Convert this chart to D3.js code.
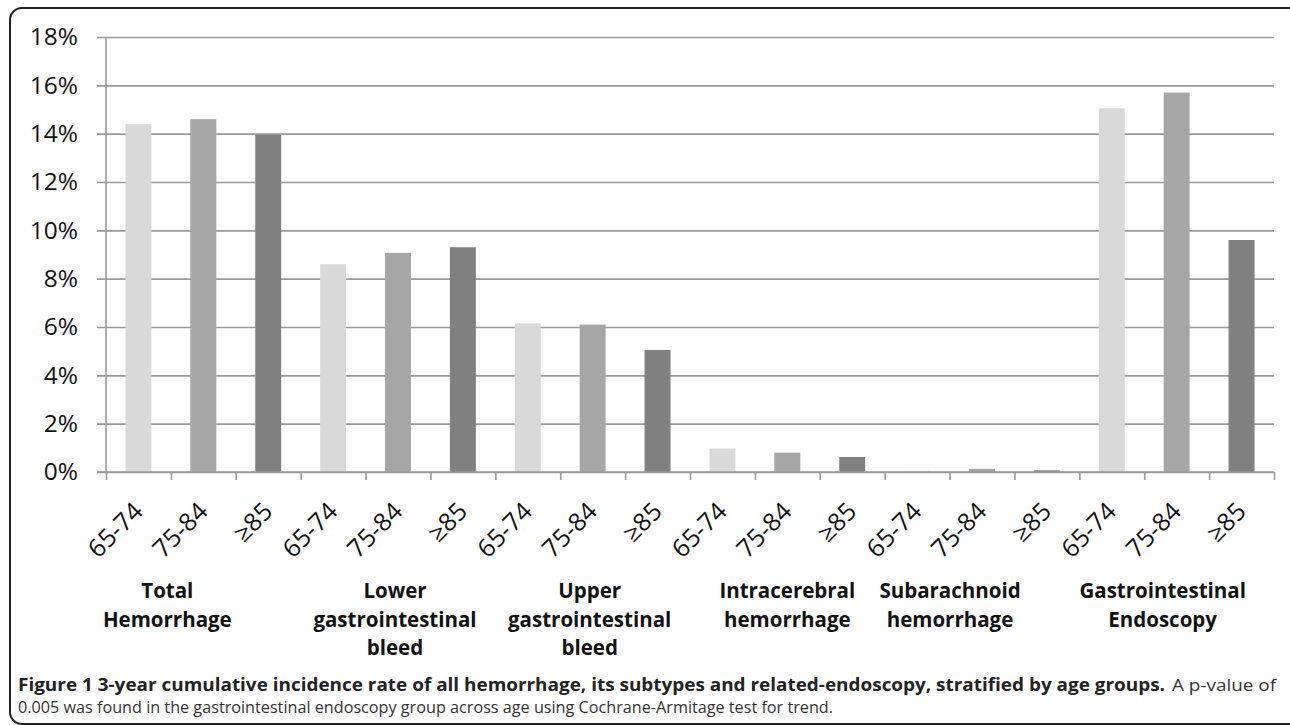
<!DOCTYPE html>
<html>
<head>
<meta charset="utf-8">
<script src="https://cdn.jsdelivr.net/npm/d3@7"></script>
<style>
  body { margin: 0; background: #fff; }
  svg text { font-family: "Open Sans", sans-serif; }
</style>
</head>
<body>
<svg id="chart" width="1290" height="725"></svg>
<script>
// values (percent)
var ageGroups = ["65-74", "75-84", "≥85"];
var groupNames = [
  ["Total", "Hemorrhage"],
  ["Lower", "gastrointestinal", "bleed"],
  ["Upper", "gastrointestinal", "bleed"],
  ["Intracerebral", "hemorrhage"],
  ["Subarachnoid", "hemorrhage"],
  ["Gastrointestinal", "Endoscopy"]
];
var age6574 = [14.4, 8.6, 6.15, 0.97, 0.05, 15.05];
var age7584 = [14.6, 9.07, 6.1, 0.8, 0.13, 15.7];
var age85 = [13.95, 9.3, 5.05, 0.62, 0.07, 9.6];
var yTicks = [0, 2, 4, 6, 8, 10, 12, 14, 16, 18];

var ageColors = ["#d9d9d9", "#a6a6a6", "#808080"];
// group labels in the source sit a bit off the group centres
var groupLabelShift = [-36, -3, -3, 0, -32, -14];

var margin = { top: 37, left: 106, right: 16, bottom: 253 };
var width = 1290, height = 725;
var plotRight = width - margin.right;
var plotBottom = height - margin.bottom;

var svg = d3.select("#chart");

// frame
svg.append("rect")
  .attr("x", 10).attr("y", 8)
  .attr("width", 1300).attr("height", 716)
  .attr("rx", 12)
  .attr("fill", "none")
  .attr("stroke", "#222")
  .attr("stroke-width", 2);

// flatten to one slot per bar
var slots = [];
groupNames.forEach(function (g, gi) {
  [age6574, age7584, age85].forEach(function (arr, ai) {
    slots.push({ group: gi, age: ai, value: arr[gi] });
  });
});

var x = d3.scaleBand()
  .domain(d3.range(slots.length))
  .range([margin.left, plotRight])
  .paddingInner(0.6)
  .paddingOuter(0.3);

var xIdx = d3.scaleLinear()
  .domain([0, slots.length])
  .range([margin.left, plotRight]);

var y = d3.scaleLinear()
  .domain([0, 18])
  .range([plotBottom, margin.top]);

// gridlines + y labels
var gridAxis = d3.axisLeft(y)
  .tickValues(yTicks)
  .tickSize(plotRight - (margin.left - 9))
  .tickPadding(19)
  .tickFormat(function (d) { return d + "%"; });

var g = svg.append("g")
  .attr("transform", "translate(" + plotRight + ",0)")
  .call(gridAxis);
g.select(".domain").remove();
g.selectAll("line").attr("stroke", "#9a9a9a").attr("stroke-width", 1.6);
g.selectAll("text")
  .attr("fill", "#111")
  .style("font-size", "24.5px");

// y axis line
svg.append("line")
  .attr("x1", margin.left).attr("x2", margin.left)
  .attr("y1", margin.top).attr("y2", plotBottom)
  .attr("stroke", "#9a9a9a").attr("stroke-width", 1.6);

// bars
svg.selectAll("rect.bar")
  .data(slots)
  .enter().append("rect")
  .attr("class", "bar")
  .attr("x", function (d, i) { return x(i); })
  .attr("width", x.bandwidth())
  .attr("y", function (d) { return y(d.value); })
  .attr("height", function (d) { return plotBottom - y(d.value); })
  .attr("fill", function (d) { return ageColors[d.age]; });

// x axis with boundary ticks
var xAxis = d3.axisBottom(xIdx)
  .tickValues(d3.range(slots.length + 1))
  .tickSize(8)
  .tickFormat("");

var gx = svg.append("g")
  .attr("transform", "translate(0," + plotBottom + ")")
  .call(xAxis);
gx.select(".domain").remove();
gx.selectAll("line").attr("stroke", "#9a9a9a").attr("stroke-width", 1.6);

svg.append("line")
  .attr("x1", margin.left - 9).attr("x2", plotRight)
  .attr("y1", plotBottom).attr("y2", plotBottom)
  .attr("stroke", "#9a9a9a").attr("stroke-width", 1.6);

// age labels, rotated
svg.selectAll("text.age")
  .data(slots)
  .enter().append("text")
  .attr("class", "age")
  .attr("text-anchor", "end")
  .attr("fill", "#111")
  .style("font-size", "25px")
  .attr("transform", function (d, i) {
    var cx = x(i) + x.bandwidth() / 2 + 6;
    return "translate(" + cx + "," + (plotBottom + 41) + ") rotate(-45)";
  })
  .text(function (d) { return ageGroups[d.age]; });

// group labels
groupNames.forEach(function (lines, gi) {
  var cx = (xIdx(gi * 3) + xIdx(gi * 3 + 3)) / 2 + groupLabelShift[gi];
  var t = svg.append("text")
    .attr("text-anchor", "middle")
    .attr("fill", "#111")
    .style("font-size", "20.5px")
    .style("font-weight", "bold");
  lines.forEach(function (ln, li) {
    t.append("tspan")
      .attr("x", cx)
      .attr("y", 598 + li * 28.5)
      .text(ln);
  });
});

// caption
svg.append("text")
  .attr("x", 18).attr("y", 691)
  .attr("textLength", 1147)
  .attr("lengthAdjust", "spacingAndGlyphs")
  .style("font-size", "17px")
  .style("font-weight", "bold")
  .attr("fill", "#222")
  .text("Figure 1 3-year cumulative incidence rate of all hemorrhage, its subtypes and related-endoscopy, stratified by age groups.");

svg.append("text")
  .attr("x", 1172).attr("y", 691)
  .attr("textLength", 104)
  .attr("lengthAdjust", "spacingAndGlyphs")
  .style("font-size", "17px")
  .attr("fill", "#333")
  .text("A p-value of");

svg.append("text")
  .attr("x", 18).attr("y", 713)
  .attr("textLength", 815)
  .attr("lengthAdjust", "spacingAndGlyphs")
  .style("font-size", "17px")
  .attr("fill", "#333")
  .text("0.005 was found in the gastrointestinal endoscopy group across age using Cochrane-Armitage test for trend.");
</script>
</body>
</html>
